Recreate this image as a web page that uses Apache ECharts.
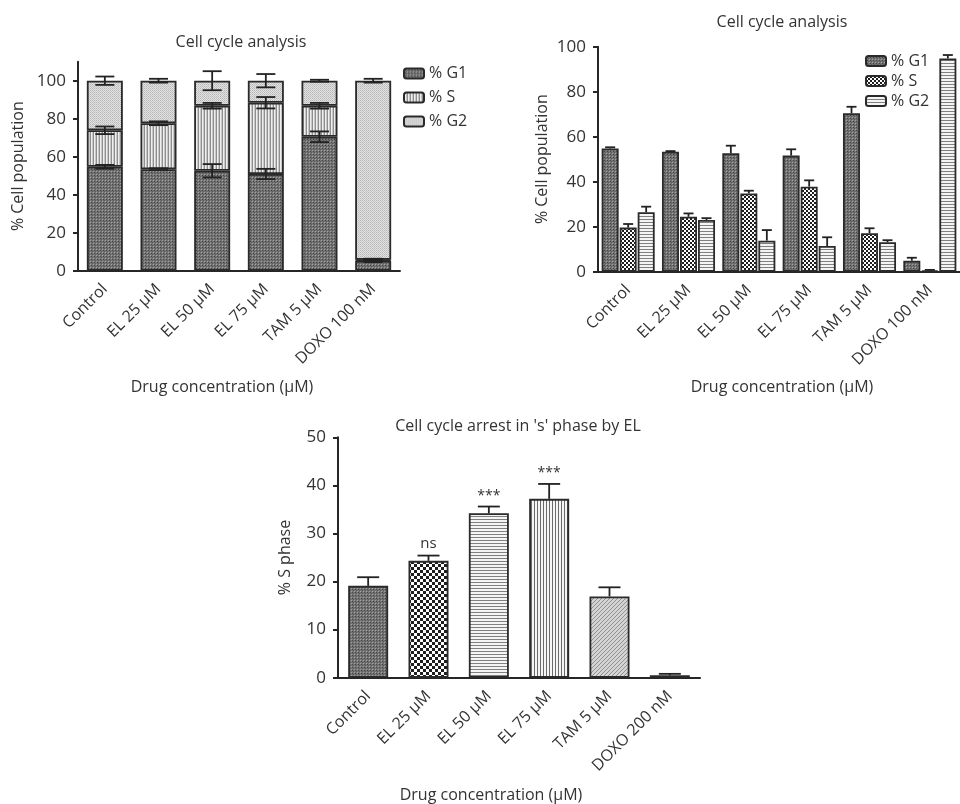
<!DOCTYPE html>
<html><head><meta charset="utf-8">
<script src="https://cdn.jsdelivr.net/npm/echarts@6/dist/echarts.min.js"></script>
<style>html,body{margin:0;padding:0;background:#fff}#c{width:960px;height:804px}</style>
</head><body><div id="c"></div>
<script>
// ---------- data ----------
const categoriesTop = ['Control', 'EL 25 μM', 'EL 50 μM', 'EL 75 μM', 'TAM 5 μM', 'DOXO 100 nM'];
const categoriesBottom = ['Control', 'EL 25 μM', 'EL 50 μM', 'EL 75 μM', 'TAM 5 μM', 'DOXO 200 nM'];
// Panel 1: stacked
const stackG1 = [54.7, 53.4, 52.6, 50.9, 70.5, 5.3];
const stackS = [19.2, 24.2, 34.2, 37.5, 16.3, 0.5];
const stackG2 = [26.1, 22.4, 13.2, 11.6, 13.2, 94.2];
const stackG1Err = [1.0, 0.5, 3.5, 2.7, 2.8, 0.8];
const stackSErr = [2.0, 1.0, 1.5, 3.0, 1.5, 0.5];
const stackG2Err = [2.2, 1.0, 5.0, 3.5, 0.5, 1.0];
// Panel 2: grouped
const groupG1 = [54.8, 53.3, 52.6, 51.6, 70.4, 4.9];
const groupS = [19.6, 24.4, 34.8, 37.8, 17.1, 0.5];
const groupG2 = [26.4, 23.0, 13.8, 11.4, 13.1, 94.8];
const groupG1Err = [0.5, 0.3, 3.4, 2.8, 2.9, 1.3];
const groupSErr = [1.6, 1.5, 1.2, 2.8, 2.2, 0.3];
const groupG2Err = [2.5, 0.8, 4.7, 3.9, 0.9, 1.5];
// Panel 3: S phase
const sPhase = [19.1, 24.3, 34.2, 37.2, 16.9, 0.5];
const sPhaseErr = [1.8, 1.1, 1.4, 3.1, 1.9, 0.3];
const sigLabels = ['', 'ns', '***', '***', '', ''];
const yTicks110 = [0, 20, 40, 60, 80, 100];

// ---------- patterns ----------
function pat(w, h, draw) {
  const c = document.createElement('canvas'); c.width = w; c.height = h;
  const g = c.getContext('2d'); draw(g); return { image: c, repeat: 'repeat' };
}
function px(g, col, x, y, w, h) { g.fillStyle = col; g.fillRect(x, y, w || 1, h || 1); }
const darkDots = pat(3, 3, g => { px(g, '#747474', 0, 0, 3, 3); px(g, '#a2a2a2', 0, 0); px(g, '#444444', 1, 1); px(g, '#5a5a5a', 2, 2); });
const vertLight = pat(3, 1, g => { px(g, '#efefef', 0, 0, 3, 1); px(g, '#8e8e8e', 0, 0); px(g, '#c8c8c8', 2, 0); });
const lightDots = pat(2, 2, g => { px(g, '#e2e2e2', 0, 0, 2, 2); px(g, '#b6b6b6', 0, 0); px(g, '#c6c6c6', 1, 1); });
const checker = pat(4, 4, g => { px(g, '#ffffff', 0, 0, 4, 4); px(g, '#1e1e1e', 0, 0, 2, 2); px(g, '#1e1e1e', 2, 2, 2, 2); });
const checkerBig = pat(6, 6, g => { px(g, '#ffffff', 0, 0, 6, 6); px(g, '#1e1e1e', 0, 0, 3, 3); px(g, '#1e1e1e', 3, 3, 3, 3); });
const horiz = pat(1, 3, g => { px(g, '#f4f4f4', 0, 0, 1, 3); px(g, '#808080', 0, 0); });
const vertDark = pat(3, 1, g => { px(g, '#f6f6f6', 0, 0, 3, 1); px(g, '#6a6a6a', 0, 0); });
const diag = pat(4, 4, g => { px(g, '#d4d4d4', 0, 0, 4, 4); px(g, '#909090', 0, 3); px(g, '#909090', 1, 2); px(g, '#909090', 2, 1); px(g, '#909090', 3, 0); });
const panel3Fills = [darkDots, checkerBig, horiz, vertDark, diag, darkDots];

const FONT = '"Open Sans", "DejaVu Sans", sans-serif';
const TXT = '#333';
const AX = '#262626';

function errRender(offset, cap, both, labels) {
  return function (params, api) {
    const i = api.value(0), v = api.value(1), e = api.value(2);
    const c = api.coord([i, v]);
    const t = api.coord([i, v + e]);
    const b = both ? api.coord([i, v - e]) : c;
    const x = c[0] + offset;
    const st = { stroke: '#222', lineWidth: 1.8 };
    const ch = [
      { type: 'line', shape: { x1: x, y1: b[1], x2: x, y2: t[1] }, style: st },
      { type: 'line', shape: { x1: x - cap / 2, y1: t[1], x2: x + cap / 2, y2: t[1] }, style: st }
    ];
    if (both) ch.push({ type: 'line', shape: { x1: x - cap / 2, y1: b[1], x2: x + cap / 2, y2: b[1] }, style: st });
    const lab = labels && labels[params.dataIndex];
    if (lab) {
      const fs = lab === 'ns' ? 15 : 14;
      ch.push({ type: 'text', style: { text: lab, x: x, y: t[1] - 4, align: 'center', verticalAlign: 'bottom', font: fs + 'px ' + FONT, fill: TXT } });
    }
    return { type: 'group', children: ch };
  };
}
function errData(vals, errs) { return vals.map((v, i) => [i, v, errs[i]]); }
function cum(a, b) { return a.map((v, i) => v + (b ? b[i] : 0)); }

const catAxis = (gi, cats) => ({
  type: 'category', gridIndex: gi, data: cats,
  axisLine: { lineStyle: { color: AX, width: 2 } },
  axisTick: { alignWithLabel: true, length: 5, lineStyle: { color: AX, width: 2 } },
  axisLabel: { rotate: 45, fontSize: 16, color: TXT, fontFamily: FONT, margin: 16, interval: 0 }
});
const valAxis = (gi, max, interval, name, gap) => ({
  type: 'value', gridIndex: gi, min: 0, max: max, interval: interval,
  name: name, nameLocation: 'middle', nameGap: gap, nameRotate: 90,
  nameTextStyle: { fontSize: 16, color: TXT, fontFamily: FONT },
  splitLine: { show: false },
  axisLine: { show: true, lineStyle: { color: AX, width: 2 } },
  axisTick: { show: true, length: 5, lineStyle: { color: AX, width: 2 } },
  axisLabel: { fontSize: 17, color: TXT, fontFamily: FONT, margin: 12 }
});

const y1 = valAxis(0, 110, 10, '% Cell population', 52);
y1.axisTick.customValues = yTicks110;
y1.axisLabel.customValues = yTicks110;

const border = { borderColor: '#2a2a2a', borderWidth: 1.8 };
const chart = echarts.init(document.getElementById('c'), null, { renderer: 'canvas' });
chart.setOption({
  animation: false,
  textStyle: { fontFamily: FONT },
  grid: [
    { left: 78, top: 61.7, width: 322, height: 209 },
    { left: 598, top: 46.7, width: 368, height: 225 },
    { left: 338, top: 437.3, width: 362, height: 240.4 }
  ],
  xAxis: [catAxis(0, categoriesTop), catAxis(1, categoriesTop), catAxis(2, categoriesBottom)],
  yAxis: [y1, valAxis(1, 100, 20, '% Cell population', 48), valAxis(2, 50, 10, '% S phase', 45)],
  legend: [
    { orient: 'vertical', left: 403, top: 65.5, itemWidth: 20, itemHeight: 10, itemGap: 8, padding: 0,
      textStyle: { fontSize: 16, color: TXT, fontFamily: FONT }, data: ['% G1', '% S', '% G2'], selectedMode: false },
    { orient: 'vertical', left: 865, top: 53, itemWidth: 20, itemHeight: 10, itemGap: 4, padding: 0,
      textStyle: { fontSize: 16, color: TXT, fontFamily: FONT }, data: ['% G1 ', '% S ', '% G2 '], selectedMode: false }
  ],
  graphic: [
    { type: 'text', x: 241, y: 42, style: { text: 'Cell cycle analysis', align: 'center', verticalAlign: 'middle', font: '16px ' + FONT, fill: TXT } },
    { type: 'text', x: 782, y: 22, style: { text: 'Cell cycle analysis', align: 'center', verticalAlign: 'middle', font: '16px ' + FONT, fill: TXT } },
    { type: 'text', x: 518, y: 426, style: { text: "Cell cycle arrest in 's' phase by EL", align: 'center', verticalAlign: 'middle', font: '16px ' + FONT, fill: TXT } },
    { type: 'text', x: 222, y: 387, style: { text: 'Drug concentration (μM)', align: 'center', verticalAlign: 'middle', font: '16px ' + FONT, fill: TXT } },
    { type: 'text', x: 782, y: 387, style: { text: 'Drug concentration (μM)', align: 'center', verticalAlign: 'middle', font: '16px ' + FONT, fill: TXT } },
    { type: 'text', x: 491, y: 795, style: { text: 'Drug concentration (μM)', align: 'center', verticalAlign: 'middle', font: '16px ' + FONT, fill: TXT } }
  ],
  series: [
    // Panel 1 stacked
    { name: '% G1', type: 'bar', stack: 'p1', xAxisIndex: 0, yAxisIndex: 0, barWidth: 36, data: stackG1, itemStyle: Object.assign({ color: darkDots }, border) },
    { name: '% S', type: 'bar', stack: 'p1', xAxisIndex: 0, yAxisIndex: 0, barWidth: 36, data: stackS, itemStyle: Object.assign({ color: vertLight }, border) },
    { name: '% G2', type: 'bar', stack: 'p1', xAxisIndex: 0, yAxisIndex: 0, barWidth: 36, data: stackG2, itemStyle: Object.assign({ color: lightDots }, border) },
    { type: 'custom', xAxisIndex: 0, yAxisIndex: 0, z: 5, renderItem: errRender(0, 19, true), data: errData(stackG1, stackG1Err) },
    { type: 'custom', xAxisIndex: 0, yAxisIndex: 0, z: 5, renderItem: errRender(0, 19, true), data: errData(cum(stackG1, stackS), stackSErr) },
    { type: 'custom', xAxisIndex: 0, yAxisIndex: 0, z: 5, renderItem: errRender(0, 19, true), data: errData(cum(cum(stackG1, stackS), stackG2), stackG2Err) },
    // Panel 2 grouped
    { name: '% G1 ', type: 'bar', xAxisIndex: 1, yAxisIndex: 1, barWidth: 17, barGap: '6%', data: groupG1, itemStyle: Object.assign({ color: darkDots }, border) },
    { name: '% S ', type: 'bar', xAxisIndex: 1, yAxisIndex: 1, barWidth: 17, barGap: '6%', data: groupS, itemStyle: Object.assign({ color: checker }, border) },
    { name: '% G2 ', type: 'bar', xAxisIndex: 1, yAxisIndex: 1, barWidth: 17, barGap: '6%', data: groupG2, itemStyle: Object.assign({ color: horiz }, border) },
    { type: 'custom', xAxisIndex: 1, yAxisIndex: 1, z: 5, renderItem: errRender(-18, 10, false), data: errData(groupG1, groupG1Err) },
    { type: 'custom', xAxisIndex: 1, yAxisIndex: 1, z: 5, renderItem: errRender(0, 10, false), data: errData(groupS, groupSErr) },
    { type: 'custom', xAxisIndex: 1, yAxisIndex: 1, z: 5, renderItem: errRender(18, 10, false), data: errData(groupG2, groupG2Err) },
    // Panel 3
    { name: '% S phase', type: 'bar', xAxisIndex: 2, yAxisIndex: 2, barWidth: 40,
      data: sPhase.map((v, i) => ({ value: v, itemStyle: { color: panel3Fills[i] } })),
      itemStyle: border },
    { type: 'custom', xAxisIndex: 2, yAxisIndex: 2, z: 5, renderItem: errRender(0, 22, false, sigLabels), data: errData(sPhase, sPhaseErr) }
  ]
});
</script></body></html>
